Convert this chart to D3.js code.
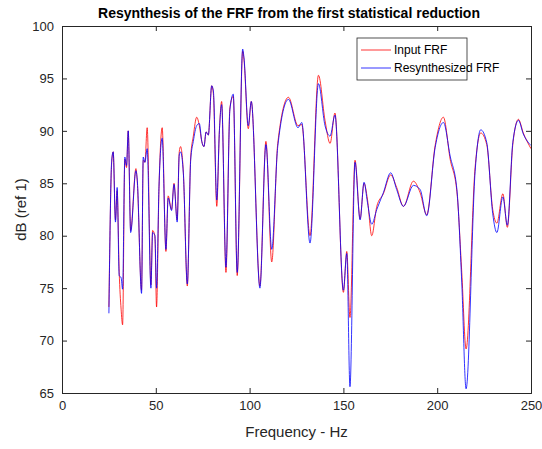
<!DOCTYPE html>
<html>
<head>
<meta charset="utf-8">
<script src="https://cdn.jsdelivr.net/npm/d3@7"></script>
<style>
  body { margin: 0; background: #fff; }
  text { font-family: "Liberation Sans", Arial, sans-serif; }
</style>
</head>
<body>
<svg id="chart" width="542" height="449"></svg>
<script>
// Frequency (Hz) samples
const freq = [25, 26.5, 27.3, 28.5, 29.4, 30.5, 31.5, 32.3, 33.5, 34.4, 35.3, 36.6, 39.4, 40.1, 42.4, 43.3, 44.2, 45.4, 47.4, 48.3, 49.5, 50.4, 51.7, 53.4, 55.4, 56.6, 58.4, 59.7, 61.4, 62.5, 63.2, 64.7, 66.8, 68.6, 70, 71.8, 73.2, 74.5, 75.7, 76.8, 78, 79.8, 80.7, 82.5, 83.9, 85.1, 87.4, 89.5, 91.3, 93.4, 96.3, 97, 99.3, 100.9, 105.5, 108.7, 111.8, 115, 120.7, 125.8, 127.8, 132.2, 136.7, 140.2, 142.9, 145.5, 150, 151.8, 153.5, 156.2, 158.9, 161, 162.8, 165.1, 167.8, 171.3, 175.2, 178.4, 182, 187.3, 190.9, 194.4, 198.9, 203.3, 206.9, 210.5, 213.1, 215.4, 220.2, 223.2, 226.4, 229.6, 231.8, 235, 237.4, 240.3, 243.3, 245.9, 250];
// Resynthesized FRF (dB)
const resynth = [72.6, 87.2, 88, 81.3, 84.6, 76.2, 76, 74.9, 87.5, 86.7, 90, 80.3, 86.2, 85.4, 74.5, 87.5, 87, 88.3, 75, 80.3, 80, 75, 84.7, 89.3, 78.7, 83.6, 82.4, 84.9, 81.3, 87.7, 88, 85.9, 75.4, 87.2, 89, 90.5, 90.7, 89, 88.5, 89.9, 89.6, 94.3, 93.8, 83.4, 90, 92.5, 77, 92, 93.5, 76.5, 97.8, 97, 90.5, 92.8, 75, 88.7, 78.7, 88.5, 93, 90.3, 90.8, 79.3, 94.5, 90.5, 89.5, 91.5, 74.8, 78.3, 65.6, 87, 81.5, 85.1, 83.2, 81.1, 82.5, 84.1, 86, 84.4, 82.8, 84.8, 84.4, 81.9, 88.4, 90.8, 87.6, 84.4, 75.5, 65.4, 86.1, 90.1, 88.9, 82.1, 80.3, 83.7, 81, 88.9, 91, 89.7, 88.6];
// Input FRF (dB)
const input = [73.2, 87, 88, 81.5, 84.3, 76.5, 73, 71.5, 87.3, 86.5, 90, 80.5, 86.4, 85.2, 74.8, 87.2, 87, 90.3, 75.3, 80.5, 80, 73.2, 84.5, 90.3, 78.5, 83.8, 82.5, 85, 81.5, 88, 88.5, 86, 75.2, 87.5, 89.5, 91.3, 90.5, 89, 88.5, 89.9, 89.6, 94.3, 93.5, 82.8, 90, 92.8, 76.5, 92.2, 93.3, 76.2, 97.6, 96.8, 90.2, 92.8, 75.2, 89, 77.5, 88.8, 93.2, 90.5, 90.6, 80, 95.3, 91, 88.8, 91.7, 74.6, 78.5, 72.2, 87.2, 81.6, 85, 83.5, 80, 82.8, 84, 85.8, 84.6, 82.8, 85.2, 84.1, 82, 88.6, 91.3, 87.3, 84.2, 76.5, 69.2, 86.5, 89.8, 88.7, 82.5, 81.2, 84, 80.8, 88.7, 91.1, 89.8, 88.3];

const xTicks = [0, 50, 100, 150, 200, 250];
const yTicks = [65, 70, 75, 80, 85, 90, 95, 100];

const svg = d3.select('#chart');
const margin = { left: 62, right: 11, top: 26, bottom: 56 };
const W = 542, H = 449;
const x = d3.scaleLinear().domain([0, 250]).range([margin.left, W - margin.right]);
const y = d3.scaleLinear().domain([65, 100]).range([H - margin.bottom, margin.top]);

const line = d3.line().curve(d3.curveMonotoneX).x((d, i) => x(freq[i])).y(d => y(d));

// Input FRF first, resynthesized drawn on top
svg.append('path').datum(input).attr('d', line)
  .attr('fill', 'none').attr('stroke', '#ff0000').attr('stroke-width', 0.8);
svg.append('path').datum(resynth).attr('d', line)
  .attr('fill', 'none').attr('stroke', '#0000ff').attr('stroke-width', 0.8);

// Axes (box style)
const axisColor = '#262626';
const gx = svg.append('g').attr('transform', `translate(0,${y(65)})`)
  .call(d3.axisBottom(x).tickValues(xTicks).tickSize(-5).tickPadding(8));
const gxt = svg.append('g').attr('transform', `translate(0,${y(100)})`)
  .call(d3.axisTop(x).tickValues(xTicks).tickSize(-5).tickFormat(''));
const gy = svg.append('g').attr('transform', `translate(${x(0)},0)`)
  .call(d3.axisLeft(y).tickValues(yTicks).tickSize(-5).tickPadding(8));
const gyr = svg.append('g').attr('transform', `translate(${x(250)},0)`)
  .call(d3.axisRight(y).tickValues(yTicks).tickSize(-5).tickFormat(''));
[gx, gxt, gy, gyr].forEach(g => {
  g.selectAll('path,line').attr('stroke', axisColor);
  g.selectAll('text').attr('fill', axisColor).style('font-size', '13px');
});

svg.append('text').attr('x', 289).attr('y', 18)
  .attr('text-anchor', 'middle').style('font-weight', 'bold').style('font-size', '14px')
  .text('Resynthesis of the FRF from the first statistical reduction');
svg.append('text').attr('x', (x(0) + x(250)) / 2).attr('y', 437)
  .attr('text-anchor', 'middle').style('font-size', '15px').attr('fill', axisColor)
  .text('Frequency - Hz');
svg.append('text').attr('transform', `translate(26,${(y(65) + y(100)) / 2}) rotate(-90)`)
  .attr('text-anchor', 'middle').style('font-size', '15px').attr('fill', axisColor)
  .text('dB (ref 1)');

// Legend
const lg = svg.append('g').attr('transform', 'translate(357,38)');
lg.append('rect').attr('width', 110).attr('height', 42)
  .attr('fill', '#fff').attr('stroke', axisColor).attr('stroke-width', 0.8);
[['Input FRF', '#ff0000'], ['Resynthesized FRF', '#0000ff']].forEach((d, i) => {
  const yy = 12 + i * 18;
  lg.append('line').attr('x1', 4).attr('x2', 34).attr('y1', yy).attr('y2', yy)
    .attr('stroke', d[1]).attr('stroke-width', 0.8);
  lg.append('text').attr('x', 37).attr('y', yy + 4).style('font-size', '12px')
    .attr('fill', '#000').text(d[0]);
});
</script>
</body>
</html>
